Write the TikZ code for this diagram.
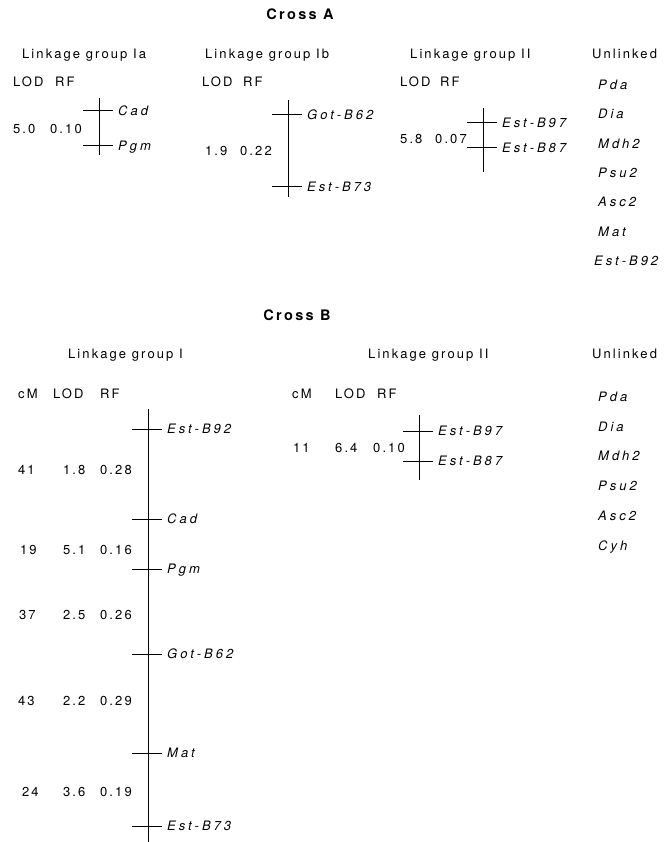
\documentclass[tikz,border=0pt]{standalone}
\usepackage{fontspec}
\newfontfamily\hv{TeX Gyre Heros}[LetterSpace=16]
\newfontfamily\hvi{TeX Gyre Heros}[LetterSpace=23]
\newcommand\locus[4]{%
  \coordinate (#1) at (#2,#3);
  \draw[bar] ([xshift=-16pt]#1) -- ([xshift=14pt]#1);
  \node[gn] (#1l) at ([xshift=19pt,yshift=-4.6pt]#1) {#4};
}
\begin{document}
\begin{tikzpicture}[x=1pt,y=-1pt,
  txt/.style={font=\hv\fontsize{13}{15}\selectfont, anchor=base west, inner sep=0pt},
  gn/.style={font=\hvi\itshape\fontsize{13}{15}\selectfont, anchor=base west, inner sep=0pt},
  ttl/.style={font=\hv\bfseries\fontsize{14.5}{16}\selectfont, anchor=base, inner sep=0pt},
  bar/.style={line width=1pt}]
\useasboundingbox (0,0) rectangle (670,842);

% ---------------- Cross A ----------------
\node[ttl] (tA) at (300,20) {Cross A};
\node[txt] (hIa) at (22,58.5) {Linkage group Ia};
\node[txt] (hIb) at (205,58.5) {Linkage group Ib};
\node[txt] (hIIa) at (410,58.5) {Linkage group II};
\node[txt] (hUa) at (592,58.5) {Unlinked};

\node[txt] (lodIa) at (13,86.5) {LOD};
\node[txt] (rfIa) at (55,86.5) {RF};
\node[txt] (lodIb) at (202,86.5) {LOD};
\node[txt] (rfIb) at (243,86.5) {RF};
\node[txt] (lodIIa) at (400,86.5) {LOD};
\node[txt] (rfIIa) at (440,86.5) {RF};

% group Ia
\coordinate (iaT) at (99,98);
\coordinate (iaB) at (99,155);
\draw[bar] (iaT) -- (iaB);
\locus{aCad}{99}{111}{Cad}
\locus{aPgm}{99}{146}{Pgm}
\node[txt] (vIa1) at (13,133.5) {5.0};
\node[txt] (vIa2) at (50,133.5) {0.10};

% group Ib
\coordinate (ibT) at (288,100);
\coordinate (ibB) at (288,197);
\draw[bar] (ibT) -- (ibB);
\locus{aGot}{288}{115}{Got-B62}
\locus{aEst73}{288}{187}{Est-B73}
\node[txt] (vIb1) at (205,156) {1.9};
\node[txt] (vIb2) at (240,156) {0.22};

% group II
\coordinate (iiT) at (483,108);
\coordinate (iiB) at (483,172);
\draw[bar] (iiT) -- (iiB);
\locus{aEst97}{483}{123}{Est-B97}
\locus{aEst87}{483}{148}{Est-B87}
\node[txt] (vIIa1) at (400,144) {5.8};
\node[txt] (vIIa2) at (435,144) {0.07};

% unlinked A
\node[gn] (uA1) at (598,89.6) {Pda};
\node[gn] (uA2) at (598,118.9) {Dia};
\node[gn] (uA3) at (598,148.3) {Mdh2};
\node[gn] (uA4) at (598,177.6) {Psu2};
\node[gn] (uA5) at (598,206.9) {Asc2};
\node[gn] (uA6) at (598,236.3) {Mat};
\node[gn] (uA7) at (594,265.6) {Est-B92};

% ---------------- Cross B ----------------
\node[ttl] (tB) at (297,320) {Cross B};
\node[txt] (hI) at (68,358) {Linkage group I};
\node[txt] (hIIb) at (368,358) {Linkage group II};
\node[txt] (hUb) at (592,358) {Unlinked};

\node[txt] (cmI) at (18,398) {cM};
\node[txt] (lodI) at (53,398) {LOD};
\node[txt] (rfI) at (100,398) {RF};
\node[txt] (cmIIb) at (292,398) {cM};
\node[txt] (lodIIb) at (335,398) {LOD};
\node[txt] (rfIIb) at (377,398) {RF};

% group I
\coordinate (bIT) at (148,409);
\coordinate (bIB) at (148,842);
\draw[bar] (bIT) -- (bIB);
\locus{bEst92}{148}{429}{Est-B92}
\locus{bCad}{148}{519}{Cad}
\locus{bPgm}{148}{569}{Pgm}
\locus{bGot}{148}{654}{Got-B62}
\locus{bMat}{148}{753}{Mat}
\locus{bEst73}{148}{826}{Est-B73}

\node[txt] (r1a) at (18,474) {41};
\node[txt] (r1b) at (63,474) {1.8};
\node[txt] (r1c) at (100,474) {0.28};
\node[txt] (r2a) at (20,554) {19};
\node[txt] (r2b) at (63,554) {5.1};
\node[txt] (r2c) at (100,554) {0.16};
\node[txt] (r3a) at (19,619) {37};
\node[txt] (r3b) at (63,619) {2.5};
\node[txt] (r3c) at (100,619) {0.26};
\node[txt] (r4a) at (18,705) {43};
\node[txt] (r4b) at (63,705) {2.2};
\node[txt] (r4c) at (100,705) {0.29};
\node[txt] (r5a) at (22,796) {24};
\node[txt] (r5b) at (63,796) {3.6};
\node[txt] (r5c) at (100,796) {0.19};

% group II B
\coordinate (bIIT) at (419,415);
\coordinate (bIIB) at (419,480);
\draw[bar] (bIIT) -- (bIIB);
\locus{bEst97}{419}{431}{Est-B97}
\locus{bEst87}{419}{461}{Est-B87}
\node[txt] (s1a) at (293,452) {11};
\node[txt] (s1b) at (335,452) {6.4};
\node[txt] (s1c) at (373,452) {0.10};

% unlinked B
\node[gn] (uB1) at (598,401.6) {Pda};
\node[gn] (uB2) at (598,431.6) {Dia};
\node[gn] (uB3) at (598,460.6) {Mdh2};
\node[gn] (uB4) at (598,490.6) {Psu2};
\node[gn] (uB5) at (598,520.6) {Asc2};
\node[gn] (uB6) at (598,550.6) {Cyh};
\end{tikzpicture}
\end{document}
